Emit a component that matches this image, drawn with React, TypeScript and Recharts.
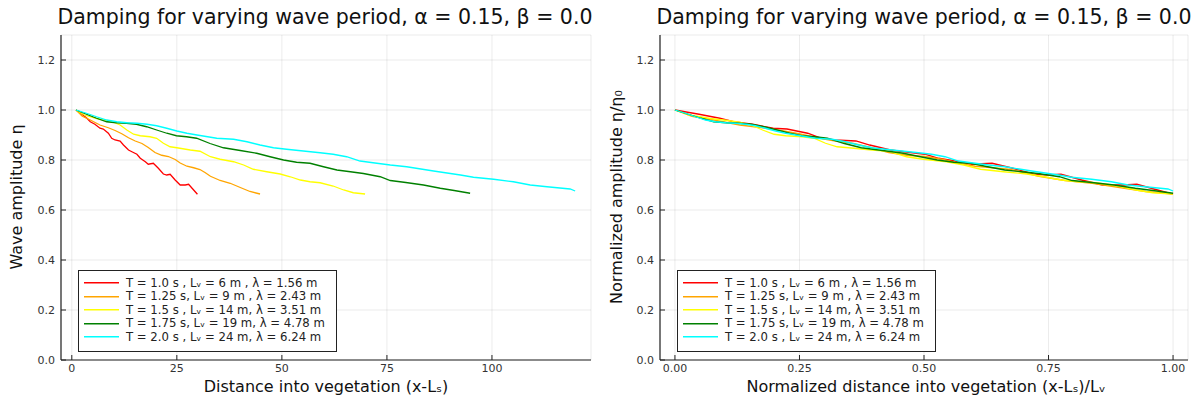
import React from "react";
import { LineChart, Line, XAxis, YAxis, CartesianGrid, Legend } from "recharts";

type Pt = { x: number; y: number };

const seriesNames = [
  "T = 1.0 s , Lᵥ = 6 m , λ = 1.56 m",
  "T = 1.25 s, Lᵥ = 9 m , λ = 2.43 m",
  "T = 1.5 s , Lᵥ = 14 m, λ = 3.51 m",
  "T = 1.75 s, Lᵥ = 19 m, λ = 4.78 m",
  "T = 2.0 s , Lᵥ = 24 m, λ = 6.24 m",
];
const seriesColors = ["#ff0000", "#ffa500", "#ffff00", "#008000", "#00ffff"];

const redT10: Pt[] = [
  { x: 1.0, y: 1.0 }, { x: 2.4, y: 0.983 }, { x: 3.6, y: 0.967 }, { x: 4.4, y: 0.953 },
  { x: 5.5, y: 0.943 }, { x: 6.7, y: 0.927 }, { x: 7.5, y: 0.924 }, { x: 8.7, y: 0.907 },
  { x: 9.5, y: 0.887 }, { x: 10.3, y: 0.88 }, { x: 11.5, y: 0.876 }, { x: 12.3, y: 0.86 },
  { x: 13.5, y: 0.84 }, { x: 14.3, y: 0.833 }, { x: 15.5, y: 0.823 }, { x: 16.3, y: 0.807 },
  { x: 17.5, y: 0.793 }, { x: 18.2, y: 0.783 }, { x: 19.4, y: 0.787 }, { x: 20.6, y: 0.767 },
  { x: 21.8, y: 0.744 }, { x: 22.6, y: 0.74 }, { x: 23.4, y: 0.743 }, { x: 24.6, y: 0.72 },
  { x: 25.8, y: 0.7 }, { x: 27.0, y: 0.7 }, { x: 27.8, y: 0.703 }, { x: 29.0, y: 0.68 },
  { x: 29.9, y: 0.663 },
];

const orangeT125: Pt[] = [
  { x: 1.0, y: 1.0 }, { x: 2.5, y: 0.975 }, { x: 4.4, y: 0.96 }, { x: 6.7, y: 0.94 },
  { x: 8.7, y: 0.929 }, { x: 10.3, y: 0.918 }, { x: 11.9, y: 0.905 }, { x: 13.5, y: 0.889 },
  { x: 15.1, y: 0.876 }, { x: 16.7, y: 0.866 }, { x: 18.2, y: 0.85 }, { x: 19.8, y: 0.83 },
  { x: 21.4, y: 0.819 }, { x: 23.0, y: 0.814 }, { x: 24.6, y: 0.802 }, { x: 25.8, y: 0.788 },
  { x: 27.4, y: 0.775 }, { x: 29.0, y: 0.769 }, { x: 30.5, y: 0.762 }, { x: 31.7, y: 0.75 },
  { x: 33.0, y: 0.735 }, { x: 35.3, y: 0.718 }, { x: 37.7, y: 0.707 }, { x: 40.1, y: 0.69 },
  { x: 42.4, y: 0.674 }, { x: 44.8, y: 0.664 },
];

const yellowT15: Pt[] = [
  { x: 1.0, y: 1.0 }, { x: 3.0, y: 0.98 }, { x: 5.9, y: 0.966 }, { x: 8.3, y: 0.958 },
  { x: 9.9, y: 0.951 }, { x: 11.5, y: 0.94 }, { x: 13.1, y: 0.92 }, { x: 14.7, y: 0.903 },
  { x: 16.3, y: 0.897 }, { x: 18.6, y: 0.893 }, { x: 20.2, y: 0.887 }, { x: 21.8, y: 0.867 },
  { x: 23.4, y: 0.853 }, { x: 25.0, y: 0.849 }, { x: 28.2, y: 0.84 }, { x: 30.5, y: 0.835 },
  { x: 33.0, y: 0.813 }, { x: 35.3, y: 0.803 }, { x: 38.5, y: 0.793 }, { x: 40.9, y: 0.78 },
  { x: 43.2, y: 0.763 }, { x: 46.4, y: 0.753 }, { x: 49.6, y: 0.744 }, { x: 52.0, y: 0.733 },
  { x: 54.4, y: 0.72 }, { x: 56.7, y: 0.713 }, { x: 59.1, y: 0.709 }, { x: 62.2, y: 0.696 },
  { x: 64.7, y: 0.68 }, { x: 67.0, y: 0.669 }, { x: 69.8, y: 0.664 },
];

const greenT175: Pt[] = [
  { x: 1.0, y: 1.0 }, { x: 3.5, y: 0.983 }, { x: 5.9, y: 0.967 }, { x: 8.3, y: 0.953 },
  { x: 10.7, y: 0.949 }, { x: 13.0, y: 0.947 }, { x: 15.4, y: 0.943 }, { x: 17.8, y: 0.933 },
  { x: 20.2, y: 0.92 }, { x: 22.6, y: 0.907 }, { x: 24.9, y: 0.897 }, { x: 27.3, y: 0.893 },
  { x: 29.7, y: 0.887 }, { x: 32.9, y: 0.866 }, { x: 36.1, y: 0.849 }, { x: 40.1, y: 0.838 },
  { x: 44.0, y: 0.827 }, { x: 47.2, y: 0.813 }, { x: 50.4, y: 0.8 }, { x: 53.5, y: 0.791 },
  { x: 56.7, y: 0.787 }, { x: 59.9, y: 0.773 }, { x: 63.1, y: 0.76 }, { x: 66.3, y: 0.753 },
  { x: 69.4, y: 0.746 }, { x: 73.4, y: 0.733 }, { x: 75.8, y: 0.718 }, { x: 79.5, y: 0.71 },
  { x: 83.7, y: 0.7 }, { x: 87.7, y: 0.687 }, { x: 91.0, y: 0.678 }, { x: 94.8, y: 0.667 },
];

const cyanT20: Pt[] = [
  { x: 1.0, y: 1.0 }, { x: 3.5, y: 0.987 }, { x: 5.9, y: 0.973 }, { x: 8.3, y: 0.96 },
  { x: 10.7, y: 0.953 }, { x: 13.1, y: 0.949 }, { x: 15.5, y: 0.947 }, { x: 17.9, y: 0.943 },
  { x: 20.2, y: 0.937 }, { x: 22.6, y: 0.927 }, { x: 25.0, y: 0.916 }, { x: 27.4, y: 0.907 },
  { x: 29.8, y: 0.9 }, { x: 34.5, y: 0.887 }, { x: 38.5, y: 0.883 }, { x: 41.7, y: 0.873 },
  { x: 44.8, y: 0.86 }, { x: 48.0, y: 0.849 }, { x: 51.1, y: 0.843 }, { x: 55.1, y: 0.836 },
  { x: 59.1, y: 0.829 }, { x: 62.2, y: 0.823 }, { x: 65.4, y: 0.813 }, { x: 68.6, y: 0.796 },
  { x: 71.7, y: 0.789 }, { x: 75.8, y: 0.78 }, { x: 79.7, y: 0.773 }, { x: 86.1, y: 0.756 },
  { x: 92.5, y: 0.74 }, { x: 95.6, y: 0.731 }, { x: 100.4, y: 0.723 }, { x: 105.1, y: 0.713 },
  { x: 109.1, y: 0.7 }, { x: 113.1, y: 0.693 }, { x: 118.6, y: 0.684 }, { x: 119.8, y: 0.676 },
];

const leftSeries = [redT10, orangeT125, yellowT15, greenT175, cyanT20];

// normalized distance (x - start) / (end - start) for the right panel
const normalize = (s: Pt[]): Pt[] => {
  const x0 = s[0].x;
  const x1 = s[s.length - 1].x;
  return s.map((p) => ({ x: (p.x - x0) / (x1 - x0), y: p.y }));
};
const rightSeries = leftSeries.map(normalize);

const yTicks = [0, 0.2, 0.4, 0.6, 0.8, 1.0, 1.2];
const xTicksLeft = [0, 25, 50, 75, 100];
const xTicksRight = [0, 0.25, 0.5, 0.75, 1.0];

const titleText = "Damping for varying wave period, α = 0.15, β = 0.0";
const FONT = '"DejaVu Sans", "Noto Sans", sans-serif';

const XTick = (digits: number) => (props: any) => {
  const { x, y, payload } = props;
  return (
    <g>
      <line x1={x} y1={y} x2={x} y2={y - 5} stroke="#222" strokeWidth={1} />
      <text x={x} y={y + 4} dy="0.75em" textAnchor="middle" fontSize={11} fill="#333" fontFamily={FONT}>
        {Number(payload.value).toFixed(digits)}
      </text>
    </g>
  );
};

const YTick = (props: any) => {
  const { x, y, payload } = props;
  return (
    <g>
      <line x1={x} y1={y} x2={x + 5} y2={y} stroke="#222" strokeWidth={1} />
      <text x={x - 6} y={y} dy="0.36em" textAnchor="end" fontSize={11} fill="#333" fontFamily={FONT}>
        {Number(payload.value).toFixed(1)}
      </text>
    </g>
  );
};

const LegendBox = () => (
  <div
    style={{
      width: 257,
      height: 75,
      border: "1px solid #222",
      background: "#fff",
      boxSizing: "content-box",
      paddingTop: 5,
      fontFamily: FONT,
      fontSize: 11.7,
      color: "#222",
    }}
  >
    {seriesNames.map((n, i) => (
      <div key={n} style={{ height: 13.5, display: "flex", alignItems: "center", whiteSpace: "pre" }}>
        <svg width={47} height={13.5} style={{ flex: "none" }}>
          <line x1={5} x2={40} y1={6.75} y2={6.75} stroke={seriesColors[i]} strokeWidth={1.3} />
        </svg>
        <span>{n}</span>
      </div>
    ))}
  </div>
);

type PanelProps = {
  left: number;
  width: number;
  yAxisWidth: number;
  marginRight: number;
  series: Pt[][];
  xDomain: [number, number];
  xTicks: number[];
  xDigits: number;
  legendLeft: number;
};

const Panel = (p: PanelProps) => (
  <div style={{ position: "absolute", left: p.left, top: 0 }}>
    <LineChart width={p.width} height={403} margin={{ top: 35, right: p.marginRight, bottom: 23, left: 0 }}>
      <CartesianGrid stroke="#000" strokeOpacity={0.08} strokeWidth={1} />
      <XAxis
        type="number"
        dataKey="x"
        domain={p.xDomain}
        ticks={p.xTicks}
        allowDataOverflow
        height={20}
        tickSize={0}
        tickMargin={0}
        tickLine={false}
        axisLine={{ stroke: "#222", strokeWidth: 1.2 }}
        tick={XTick(p.xDigits)}
        interval={0}
      />
      <YAxis
        type="number"
        dataKey="y"
        domain={[0, 1.3]}
        ticks={yTicks}
        allowDataOverflow
        width={p.yAxisWidth}
        tickSize={0}
        tickMargin={0}
        tickLine={false}
        axisLine={{ stroke: "#222", strokeWidth: 1.2 }}
        tick={YTick}
        interval={0}
      />
      {p.series.map((s, i) => (
        <Line
          key={seriesNames[i]}
          data={s}
          dataKey="y"
          name={seriesNames[i]}
          type="linear"
          stroke={seriesColors[i]}
          strokeWidth={1.3}
          dot={false}
          activeDot={false}
          isAnimationActive={false}
        />
      ))}
      <Legend
        layout="vertical"
        align="center"
        verticalAlign="middle"
        wrapperStyle={{ left: p.legendLeft, top: 270, width: 259 }}
        content={() => <LegendBox />}
      />
    </LineChart>
  </div>
);

const textStyle: React.CSSProperties = {
  position: "absolute",
  fontFamily: FONT,
  color: "#111",
  whiteSpace: "nowrap",
  lineHeight: 1,
};

export default function App() {
  return (
    <div
      style={{
        position: "absolute",
        left: 0,
        top: 0,
        width: 1198,
        height: 403,
        background: "#fff",
        overflow: "hidden",
      }}
    >
      <Panel
        left={0}
        width={600}
        yAxisWidth={61}
        marginRight={9}
        series={leftSeries}
        xDomain={[-2.57, 123.57]}
        xTicks={xTicksLeft}
        xDigits={0}
        legendLeft={78}
      />
      <Panel
        left={600}
        width={598}
        yAxisWidth={60}
        marginRight={10}
        series={rightSeries}
        xDomain={[-0.03, 1.03]}
        xTicks={xTicksRight}
        xDigits={2}
        legendLeft={77}
      />
      {/* titles */}
      <div style={{ ...textStyle, left: 325, top: 7, fontSize: 20.5, transform: "translateX(-50%)" }}>{titleText}</div>
      <div style={{ ...textStyle, left: 924, top: 7, fontSize: 20.5, transform: "translateX(-50%)" }}>{titleText}</div>
      {/* x labels */}
      <div style={{ ...textStyle, left: 326, top: 379, fontSize: 16, transform: "translateX(-50%)" }}>
        Distance into vegetation (x-Lₛ)
      </div>
      <div style={{ ...textStyle, left: 926, top: 379, fontSize: 16, transform: "translateX(-50%)" }}>
        Normalized distance into vegetation (x-Lₛ)/Lᵥ
      </div>
      {/* y labels */}
      <div
        style={{
          ...textStyle,
          left: 17,
          top: 197,
          fontSize: 16,
          transform: "translate(-50%, -50%) rotate(-90deg)",
        }}
      >
        Wave amplitude η
      </div>
      <div
        style={{
          ...textStyle,
          left: 617,
          top: 197,
          fontSize: 16,
          transform: "translate(-50%, -50%) rotate(-90deg)",
        }}
      >
        Normalized amplitude η/η₀
      </div>
    </div>
  );
}
